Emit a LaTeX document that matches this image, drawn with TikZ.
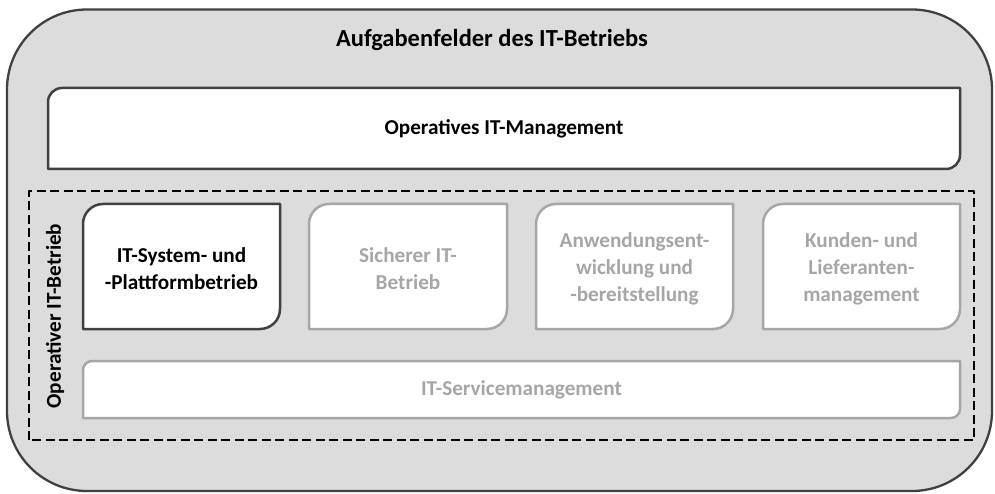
\documentclass[tikz,border=0pt]{standalone}
\usepackage{fontspec}
\setmainfont{Carlito}
\definecolor{rahmen}{HTML}{404040}
\definecolor{hell}{HTML}{A6A6A6}
\definecolor{flaeche}{HTML}{DCDCDC}
\tikzset{
  dunkel/.style={draw=rahmen, line width=2.5pt, fill=white},
  blass/.style={draw=hell, line width=2.5pt, fill=white},
  feld/.style={align=center, font=\bfseries\fontsize{21.2}{27}\selectfont},
}
% box with rounded top left and bottom right corner: style, left, top, right, bottom, radius
\newcommand{\feldbox}[6]{%
  \draw[#1] (#2,#5) -- (#2,#3-#6) arc[start angle=180, end angle=90, radius=#6] -- (#4,#3)
    -- (#4,#5+#6) arc[start angle=0, end angle=-90, radius=#6] -- cycle;}
\begin{document}
\begin{tikzpicture}[x=1pt, y=1pt, line join=round, line cap=round]
	\useasboundingbox (0,0) rectangle (995,493);
	\draw[draw=rahmen, line width=2.3pt, fill=flaeche, rounded corners=80pt] (7,2) rectangle (992,483.5);
	\node[anchor=base, font=\bfseries\fontsize{24.5}{30}\selectfont] (titel) at (492,446) {Aufgabenfelder des IT-Betriebs};
	% oberes Feld
	\feldbox{dunkel}{48}{405}{960}{324}{14}
	\node[anchor=base, feld] (management) at (504,358) {Operatives IT-Management};
	% operativer Betrieb
	\draw[line width=1.2pt, dash pattern=on 9pt off 4.5pt, line cap=butt] (29,53) rectangle (974,302);
	\node[feld, rotate=90] (betrieb) at (55,177) {Operativer IT-Betrieb};
	\feldbox{dunkel}{83}{289}{280}{164}{20}
	\feldbox{blass}{309}{289}{507}{164}{20}
	\feldbox{blass}{536}{289}{733}{164}{20}
	\feldbox{blass}{763}{289}{960}{164}{20}
	\node[feld] (plattform) at (181.5,224.5) {IT-System- und\\-Plattformbetrieb};
	\node[feld, text=hell] (sicher) at (408,224.5) {Sicherer IT-\\Betrieb};
	\node[feld, text=hell] (anwendung) at (634.5,224.5) {Anwendungsent-\\wicklung und\\-bereitstellung};
	\node[feld, text=hell] (kunden) at (861.5,224.5) {Kunden- und\\Lieferanten-\\management};
	\feldbox{blass}{83}{132}{960}{75}{9}
	\node[feld, text=hell] (service) at (521.5,103.5) {IT-Servicemanagement};
\end{tikzpicture}
\end{document}
